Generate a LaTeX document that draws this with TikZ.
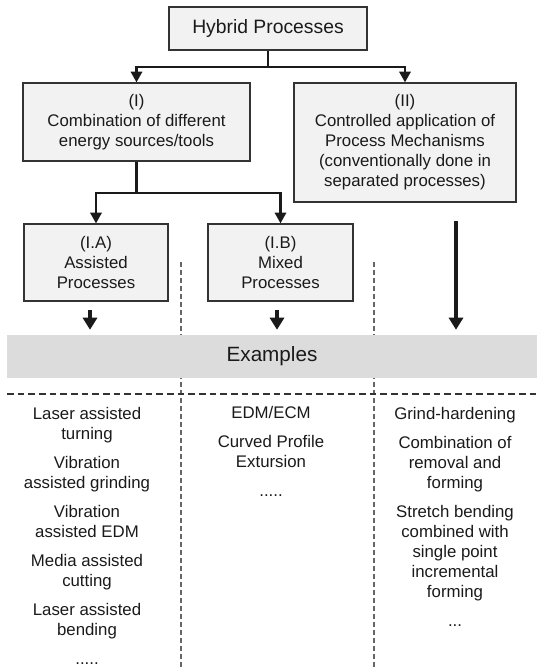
\documentclass[tikz,border=0pt]{standalone}
\usepackage{fontspec}
\setmainfont{Liberation Sans}
\usetikzlibrary{arrows.meta,calc}
\definecolor{caixa}{HTML}{F2F2F2}
\definecolor{faixa}{HTML}{DCDCDC}
\definecolor{linha}{HTML}{333333}
\definecolor{texto}{HTML}{1A1A1A}
\definecolor{tracejado}{HTML}{666666}

\begin{document}
\begin{tikzpicture}[x=0.75pt, y=-0.75pt,
    box/.style={draw=linha, line width=1pt, fill=caixa, inner sep=0pt, align=center,
        text=texto, font=\fontsize{12.6}{15}\selectfont},
    conn/.style={draw=texto, line width=1.6pt, -{Triangle[width=8.5pt,length=8pt]}},
    fat/.style={draw=texto, line width=2.6pt, -{Triangle[width=10.5pt,length=9pt]}},
    col/.style={anchor=north, inner sep=0pt, align=center, text=texto,
        font=\fontsize{12.6}{15}\selectfont}]

    % 1 px da figura = 0.75pt
    \path[use as bounding box] (0,0) rectangle (537,668);

    \node[box, minimum width=148.5pt, minimum height=32.25pt,
        font=\fontsize{14.5}{17}\selectfont] (hyb) at (268,28.5) {Hybrid Processes};
    \node[box, minimum width=170.25pt, minimum height=58.5pt] (comb) at (136.5,122)
        {(I)\\Combination of different\\energy sources/tools};
    \node[box, minimum width=166.5pt, minimum height=89.25pt] (ctrl) at (405,142.5)
        {(II)\\Controlled application of\\Process Mechanisms\\(conventionally done in\\separated processes)};
    \node[box, minimum width=108pt, minimum height=57.75pt] (assist) at (96,262.5)
        {(I.A)\\Assisted\\Processes};
    \node[box, minimum width=108.75pt, minimum height=57.75pt] (mixed) at (280.5,262.5)
        {(I.B)\\Mixed\\Processes};

    \draw[conn] (hyb.south) -- ++(0,16) -| (comb.north);
    \draw[conn] (hyb.south) ++(0,16) -| (ctrl.north);
    \draw[conn] (comb.south) -- ++(0,31) -| (assist.north);
    \draw[conn] (comb.south) ++(0,31) -| (mixed.north);

    \foreach \x in {181,374}
        \draw[tracejado, dash pattern=on 3.75pt off 2.25pt, line width=1.1pt] (\x,262) -- (\x,668);

    \node[fill=faixa, minimum width=397.5pt, minimum height=32.25pt, inner sep=0pt,
        text=texto, font=\fontsize{15.5}{18}\selectfont] (ex) at (272,356.5) {Examples};
    \draw[linha, dash pattern=on 5pt off 3pt, line width=1pt] (7,394) -- (537,394);

    \coordinate (a1) at (90,310);
    \coordinate (a2) at (277,310);
    \coordinate (a3) at (456,221);
    \foreach \c in {a1,a2,a3}
        \draw[fat] (\c) -- ($(\c |- ex.north)+(0,-5)$);

    \node[col] (lst1) at (87,407) {Laser assisted\\turning\\[6.75pt]
        Vibration\\assisted grinding\\[6.75pt] Vibration\\assisted EDM\\[6.75pt]
        Media assisted\\cutting\\[6.75pt] Laser assisted\\bending\\[6.75pt] .....};
    \node[col] (lst2) at (271,406) {EDM/ECM\\[6.75pt] Curved Profile\\Extursion\\[6.75pt] .....};
    \node[col] (lst3) at (455,407) {Grind-hardening\\[6.75pt] Combination of\\removal and\\forming\\[6.75pt]
        Stretch bending\\combined with\\single point\\incremental\\forming\\[6.75pt] ...};
\end{tikzpicture}
\end{document}
